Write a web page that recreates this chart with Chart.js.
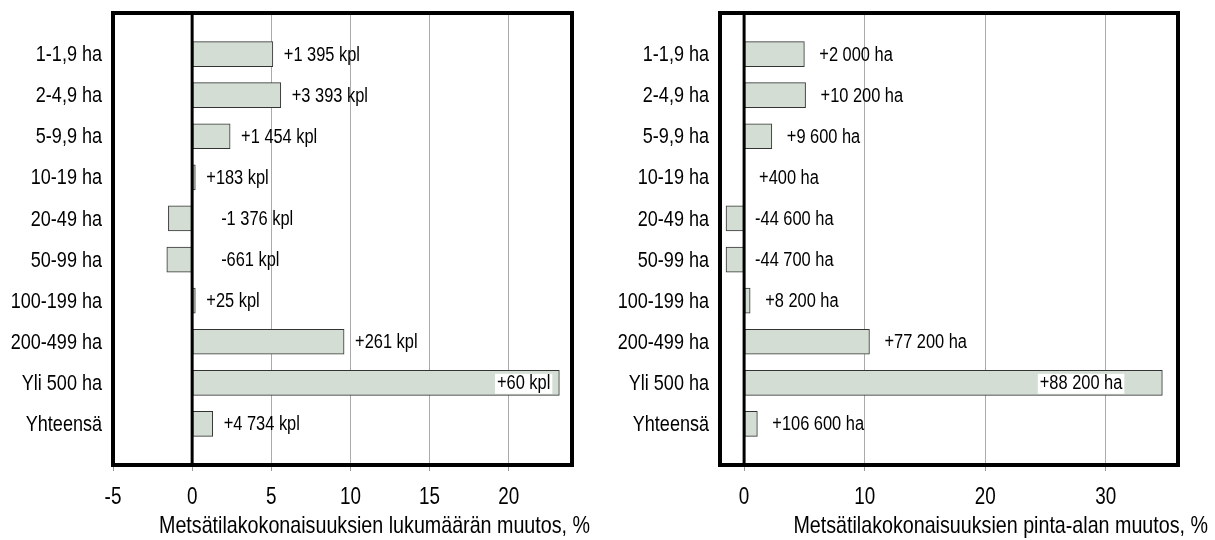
<!DOCTYPE html>
<html><head><meta charset="utf-8">
<script src="https://cdn.jsdelivr.net/npm/chart.js@4.4.0/dist/chart.umd.min.js"></script>
<style>
html,body{margin:0;padding:0;background:#fff;width:1215px;height:540px;overflow:hidden}
.c{position:absolute;top:0;height:540px}
#w1{left:0;width:607px}
#w2{left:607px;width:608px}
</style></head><body>
<div class="c" id="w1"><canvas id="c1"></canvas></div>
<div class="c" id="w2"><canvas id="c2"></canvas></div>
<script>
const categories = ['1-1,9 ha','2-4,9 ha','5-9,9 ha','10-19 ha','20-49 ha','50-99 ha','100-199 ha','200-499 ha','Yli 500 ha','Yhteensä'];
const countChange = [5.1, 5.6, 2.4, 0.2, -1.5, -1.6, 0.2, 9.6, 23.2, 1.3];
const countLabels = ['+1 395 kpl','+3 393 kpl','+1 454 kpl','+183 kpl','-1 376 kpl','-661 kpl','+25 kpl','+261 kpl','+60 kpl','+4 734 kpl'];
const areaChange = [5.0, 5.1, 2.3, 0.0, -1.5, -1.5, 0.5, 10.4, 34.7, 1.1];
const areaLabels = ['+2 000 ha','+10 200 ha','+9 600 ha','+400 ha','-44 600 ha','-44 700 ha','+8 200 ha','+77 200 ha','+88 200 ha','+106 600 ha'];
const countTicks = [-5, 0, 5, 10, 15, 20];
const areaTicks = [0, 10, 20, 30];
const countTitle = 'Metsätilakokonaisuuksien lukumäärän muutos, %';
const areaTitle = 'Metsätilakokonaisuuksien pinta-alan muutos, %';

const FONT = "'Liberation Sans', Arial, sans-serif";
const SQ = 0.82; // narrow (condensed) rendering factor

function narrowText(ctx, text, x, y, align, size) {
  ctx.save();
  ctx.font = size + 'px ' + FONT;
  ctx.textBaseline = 'middle';
  ctx.textAlign = align;
  ctx.translate(x, y);
  ctx.scale(SQ, 1);
  ctx.fillText(text, 0, 0);
  ctx.restore();
}
function narrowWidth(ctx, text, size) {
  ctx.save();
  ctx.font = size + 'px ' + FONT;
  const w = ctx.measureText(text).width * SQ;
  ctx.restore();
  return w;
}

const decor = {
  id: 'decor',
  afterDatasetsDraw(chart, args, o) {
    const ctx = chart.ctx, a = chart.chartArea, xs = chart.scales.x, ys = chart.scales.y;
    const meta = chart.getDatasetMeta(0);
    const vals = chart.data.datasets[0].data;
    ctx.save();
    ctx.fillStyle = '#000';
    // zero line
    const z = xs.getPixelForValue(0);
    ctx.strokeStyle = '#000'; ctx.lineWidth = 3;
    ctx.beginPath(); ctx.moveTo(z, a.top); ctx.lineTo(z, a.bottom); ctx.stroke();
    // value labels
    meta.data.forEach((bar, i) => {
      const v = vals[i];
      if (v == null) return;
      const t = o.labels[i - 1];
      const w = narrowWidth(ctx, t, 20);
      const y = bar.y + 1;
      const x = v < 0 ? z + o.negGap : xs.getPixelForValue(v) + o.gap;
      if (x + w > a.right - 6) {
        const xe = xs.getPixelForValue(v) - o.inGap;
        ctx.fillStyle = '#fff';
        ctx.fillRect(xe - w - 2, y - 10, w + 4, 20);
        ctx.fillStyle = '#000';
        narrowText(ctx, t, xe, y, 'right', 20);
      } else {
        ctx.fillStyle = '#000';
        narrowText(ctx, t, x, y, 'left', 20);
      }
    });
    // category labels (y scale)
    chart.data.labels.forEach((lab, i) => {
      if (!lab) return;
      narrowText(ctx, lab, a.left - 11, ys.getPixelForValue(i) + 1, 'right', 22);
    });
    // tick labels (x scale)
    xs.ticks.forEach(tk => {
      narrowText(ctx, String(tk.value), xs.getPixelForValue(tk.value), a.bottom + 33, 'center', 23);
    });
    // frame
    ctx.lineWidth = 4; ctx.strokeStyle = '#000';
    ctx.strokeRect(a.left, a.top, a.right - a.left, a.bottom - a.top);
    // axis title
    narrowText(ctx, o.title, a.right + o.titleShift, a.bottom + 61, 'right', 24);
    ctx.restore();
  }
};

function make(id, values, labels, ticks, min, max, o) {
  return new Chart(document.getElementById(id), {
    type: 'bar',
    data: {
      labels: ['', ...categories, ''],
      datasets: [{
        data: [null, ...values, null],
        backgroundColor: '#d3ddd3',
        borderColor: '#333',
        borderWidth: 1,
        borderSkipped: false,
        barThickness: 25
      }]
    },
    options: {
      indexAxis: 'y',
      responsive: true,
      maintainAspectRatio: false,
      animation: false,
      layout: { padding: { top: 13, right: o.padRight, left: 0, bottom: 0 } },
      plugins: {
        legend: { display: false },
        tooltip: { enabled: false },
        decor: { labels, title: o.title, titleShift: o.titleShift, gap: o.gap, negGap: o.negGap, inGap: o.inGap }
      },
      scales: {
        x: {
          type: 'linear', min, max,
          afterBuildTicks: s => { s.ticks = ticks.map(v => ({ value: v })); },
          afterFit: s => { s.height = 75; },
          grid: { color: '#aaa', lineWidth: 1, drawTicks: true, tickLength: 6, tickColor: '#999' },
          border: { display: false },
          ticks: { display: false }
        },
        y: {
          offset: false,
          afterFit: s => { s.width = 113; },
          grid: { display: false },
          border: { display: false },
          ticks: { display: false, autoSkip: false }
        }
      }
    },
    plugins: [decor]
  });
}

make('c1', countChange, countLabels, countTicks, -5, 24,
  { padRight: 35, title: countTitle, titleShift: 18, gap: 11, negGap: 29, inGap: 9 });
make('c2', areaChange, areaLabels, areaTicks, -2, 36,
  { padRight: 37, title: areaTitle, titleShift: 30, gap: 15, negGap: 11, inGap: 40 });
</script>
</body></html>
